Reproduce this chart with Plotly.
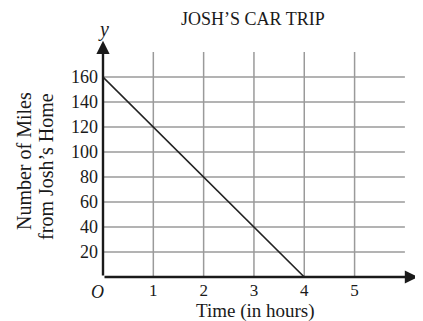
import plotly.graph_objects as go

# Data
time_hours = [0, 4]
miles = [160, 0]
x_ticks = [1, 2, 3, 4, 5]
y_ticks = [20, 40, 60, 80, 100, 120, 140, 160]
title_text = "JOSH\u2019S CAR TRIP"
x_title = "Time (in hours)"
y_title_lines = ["Number of Miles", "from Josh\u2019s Home"]

FONT = "Liberation Serif, Times New Roman, serif"
GRID = "#9a9a9a"
INK = "#1a1a1a"

fig = go.Figure()
fig.add_trace(go.Scatter(x=time_hours, y=miles, mode="lines",
                         line=dict(color="#222222", width=1.6),
                         hoverinfo="skip", cliponaxis=False))

shapes = []
grid_x_max = 6
grid_y_max = 180
for xv in x_ticks:
    shapes.append(dict(type="line", xref="x", yref="y", x0=xv, x1=xv, y0=0, y1=grid_y_max,
                       line=dict(color=GRID, width=1.5), layer="below"))
for yv in y_ticks:
    shapes.append(dict(type="line", xref="x", yref="y", x0=0, x1=grid_x_max, y0=yv, y1=yv,
                       line=dict(color=GRID, width=1.5), layer="below"))


def label(x, y, text, size, ref="paper", angle=0):
    return dict(x=x, y=y, xref=ref, yref=ref, text=text, showarrow=False,
                xanchor="center", yanchor="middle", textangle=angle,
                font=dict(family=FONT, size=size, color=INK))


ann = []
# axes with arrows
ann.append(dict(x=0, y=189, ax=0, ay=0, xref="x", yref="y", axref="x", ayref="y",
                text="", showarrow=True, arrowhead=2, arrowsize=1.1, arrowwidth=2.4,
                arrowcolor=INK))
ann.append(dict(x=6.26, y=0, ax=0, ay=0, xref="x", yref="y", axref="x", ayref="y",
                text="", showarrow=True, arrowhead=2, arrowsize=1.1, arrowwidth=2.4,
                arrowcolor=INK))
ann.append(dict(x=0, y=198, xref="x", yref="y", text="<i>y</i>", showarrow=False,
                xanchor="center", yanchor="middle",
                font=dict(family=FONT, size=20, color=INK)))
ann.append(label(-0.0174, -0.06, "<i>O</i>", 18))
ann.append(label(0.473, 1.03, title_text, 18))
ann.append(label(0.4795, -0.136, x_title, 19))
ann.append(label(-0.249, 0.464, y_title_lines[0], 20, angle=-90))
ann.append(label(-0.18, 0.444, y_title_lines[1], 20, angle=-90))

fig.update_layout(
    width=415, height=313, autosize=False,
    margin=dict(l=95, r=3, t=19, b=44, pad=0),
    plot_bgcolor="white", paper_bgcolor="white",
    showlegend=False,
    shapes=shapes, annotations=ann,
    xaxis=dict(range=[0, 6.3], showgrid=False, zeroline=False, showline=False,
               tickmode="array", tickvals=x_ticks, ticktext=[str(v) for v in x_ticks],
               ticks="", ticklabelstandoff=1, tickfont=dict(family=FONT, size=17, color=INK),
               fixedrange=True),
    yaxis=dict(range=[0, 200], showgrid=False, zeroline=False, showline=False,
               tickmode="array", tickvals=y_ticks, ticktext=[str(v) for v in y_ticks],
               ticks="", ticklabelstandoff=4, tickfont=dict(family=FONT, size=18, color=INK),
               fixedrange=True),
)

fig.write_html("out.html")
